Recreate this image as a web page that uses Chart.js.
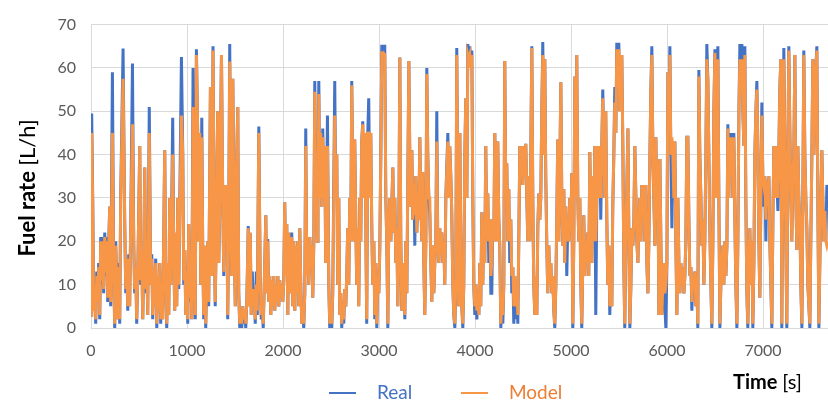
<!DOCTYPE html>
<html>
<head>
<meta charset="utf-8">
<script src="https://cdn.jsdelivr.net/npm/chart.js@4.4.0/dist/chart.umd.min.js"></script>
<style>
  html, body { margin: 0; padding: 0; background: #fff; }
</style>
</head>
<body>
<canvas id="chartConsumo" width="828" height="404"></canvas>
<script>

const timeS = [
  0,7,18,28,39,49,60,70,80,91,101,112,122,132,143,153,164,174,185,195,205,223,237,247,257,278,289,299,309,334,351,362,372,383,393,403,414,432,445,455,466,476,487,508,518,528,539,549,560,570,581,591,607,622,633,643,653,664,674,685,695,705,716,726,737,747,768,778,789,799,810,820,831,851,862,872,883,893,904,914,942,956,
  966,977,987,997,1008,1018,1029,1039,1050,1063,1075,1086,1098,1112,1122,1133,1143,1154,1164,1174,1185,1195,1206,1216,1226,1244,1258,1271,1284,1294,1305,1320,1331,1341,1359,1372,1383,1393,1404,1414,1424,1435,1445,1456,1466,1477,1492,1503,1515,1529,1539,1550,1560,1570,1581,1591,1602,1612,1623,1638,1649,1659,1669,1680,1690,1701,1711,1722,1732,1748,1763,1774,1784,1794,1805,1821,1831,1841,1852,1862,1873,1883,1893,1904,1914,1925,1935,1946,1956,1966,
  1977,1987,1998,2008,2018,2029,2039,2050,2060,2071,2081,2091,2102,2112,2123,2133,2143,2154,2164,2175,2185,2196,2206,2216,2227,2237,2248,2258,2268,2279,2289,2300,2310,2321,2331,2341,2349,2357,2364,2373,2383,2393,2404,2414,2425,2435,2445,2463,2477,2487,2497,2508,2518,2539,2549,2560,2570,2581,2591,2602,2612,2622,2633,2643,2654,2664,2674,2685,2695,2706,2716,2727,2737,2747,2758,2768,2779,2789,2800,2810,2820,2831,2841,2852,2862,2872,2883,2893,2904,2914,2925,
  2935,2946,2956,2967,2977,2987,2998,3008,3019,3029,3045,3060,3071,3081,3092,3102,3113,3123,3133,3144,3154,3165,3175,3185,3196,3206,3217,3227,3238,3248,3258,3269,3279,3290,3311,3326,3342,3352,3363,3373,3383,3394,3404,3415,3425,3435,3446,3456,3467,3477,3488,3498,3508,3519,3529,3540,3550,3560,3571,3581,3592,3602,3612,3623,3633,3644,3654,3665,3675,3685,3696,3717,3727,3737,3748,3758,3769,3779,3790,3800,3810,3821,3831,3842,3852,3862,3873,3883,3894,3904,3915,3925,
  3935,3946,3956,3967,3977,3987,3998,4008,4019,4029,4040,4050,4060,4071,4081,4092,4102,4112,4123,4133,4144,4154,4165,4175,4185,4196,4206,4217,4227,4237,4248,4258,4269,4279,4290,4300,4310,4321,4331,4342,4352,4362,4373,4383,4394,4404,4415,4425,4435,4446,4456,4467,4477,4487,4498,4508,4519,4529,4540,4550,4560,4571,4581,4592,4602,4612,4623,4633,4644,4654,4665,4675,4685,4696,4706,4717,4727,4737,4748,4758,4769,4779,4790,4800,4810,4821,4831,4842,4852,4862,4873,4883,4894,4904,4915,
  4925,4935,4946,4956,4967,4977,4987,4998,5008,5019,5029,5040,5050,5060,5071,5081,5092,5102,5112,5123,5133,5144,5154,5165,5175,5185,5196,5206,5217,5227,5237,5248,5258,5269,5279,5290,5300,5310,5321,5331,5342,5352,5362,5373,5383,5394,5404,5415,5425,5435,5446,5456,5467,5477,5487,5498,5508,5519,5529,5540,5550,5560,5571,5593,5603,5613,5624,5634,5644,5655,5665,5676,5686,5697,5707,5717,5728,5738,5749,5759,5769,5780,5790,5801,5811,5822,5832,5842,5853,5863,5874,5884,5894,5905,
  5915,5926,5936,5946,5957,5967,5978,5988,5999,6009,6019,6030,6040,6051,6061,6071,6082,6092,6103,6113,6124,6134,6144,6155,6165,6176,6186,6196,6207,6217,6228,6238,6249,6259,6269,6280,6290,6301,6311,6321,6332,6342,6353,6363,6374,6384,6394,6405,6415,6426,6436,6446,6457,6467,6478,6488,6499,6509,6519,6530,6540,6551,6561,6571,6582,6592,6603,6613,6624,6634,6644,6655,6665,6676,6686,6696,6707,6717,6728,6738,6749,6759,6769,6780,6790,6801,6811,6821,6832,6842,6853,6863,6873,6884,
  6894,6905,6915,6926,6936,6946,6957,6967,6978,6988,6998,7009,7019,7030,7040,7050,7061,7071,7082,7092,7103,7113,7123,7134,7144,7155,7165,7175,7186,7196,7207,7217,7228,7238,7248,7259,7269,7280,7290,7300,7311,7321,7332,7342,7353,7363,7373,7384,7394,7405,7415,7425,7436,7446,7457,7467,7478,7488,7498,7509,7519,7530,7540,7550,7561,7571,7582,7592,7603,7613,7623,7634,7644,7655,7665,7675
];

const realLh = [
  3,49.5,30,5,10,1,13,6,15,2,21,10,21,8,22,12,21,6,20,28,5,59,12,0,20,2,15,1,30,64.5,25,8,16,4,17,5,25,61,20,8,14,1,12,42,10,18,2,15,37,8,16,3,51,10,17,2,14,5,16,0,12,4,15,1,10,2,41,12,0,15,3,30,10,48.5,18,4,22,5,30,9,62.5,40,
  10,18,3,14,1,24,6,12,2,60,15,2,64.3,44,20,45,10,48.5,18,2,19,0,12,20,5,55.6,12,65,22,5,22,50,15,28,63,30,12,33,20,33,2,25,65.5,30,12,57.5,20,5,36,51,8,0,4,0,5,1,3,0,6,23.5,5,22,3,13,5,9,1,13,3,46.5,10,2,5,0,10,26,8,20.5,6,12,3,11,5,12,4,10,6,12,5,11,
  7,10,6,11,29,12,24,3,22,8,15,22,5,20,4,19,8,20,5,23,10,1,4,0,8,46,12,20,10,21,14,19,7,20,57,30,39.5,20,28,57,30,45,28,46,30,42,15,49,10,0,5,0,8,57,30,40,10,30,3,8,0,5,1,9,5,12,23,10,30,20,57,35,20,43.5,25,10,23,5,30,20,43,47.7,30,45,25,1,45,53,30,45,23,
  10,20,2,15,0,12,8,18,40,65,65,65,30,20,0,25,30,20,28,37,22,30,15,23,5,20,62.4,20,4,15,11,2,20,8,61.6,28,41,25,33,19,35,22,30,25,44,30,20,36,15,3,20,60,40,30,26,15,6,19,8,15,20,50,20,15,23,17,22,15,20,10,30,45,30,42,35,26.7,10,3,0,10,64.6,30,5,45,20,5,0,10,40,53,30,65.5,
  63,65,60,64,30,10,3,10,2,8,3,15,5,26.7,10,25,15,42,20,31,15,25,8,8,25,20,45,30,20,43,25,19,0,5,1,10,61.6,30,38,20,32,15,25,8,14,1,12,2,10,1,20,42,35,42,33,42,35,42.5,30,20,35,20,40,65,30,10,3,12,3,23,31,25,30,50,66,40,62,35,19,8,19,10,15,8,12,4,0,10,25,43.5,20,35,56.7,30,19,
  32,15,28,12,25,20,30,22,35.7,0,20,58,30,63,30,20,30,10,0,15,26,12,20,15,22,12,40.6,25,15,35,20,42,3,30,42,30,42,25,42,55,40,30,50,25,10,19,3,12,5,28,40,55.6,45,65.8,60,65.8,50,55,63,42,15,0,20,46,20,0,10,23,19,25,42,30,20,15,25,30,20,33,25,33,20,33,15,8,20,40,55,65,40,30,19,44,25,38.6,
  3,39,20,3,10,15,5,0,15,59,45,65,40,23,40,30,43,20,3,30,15,8,15,10,14,8,12,20,44,44,25,12,14,4,12,10,13,5,10,0,59.5,40,30,19,25,10,20,40,65.5,57,40,23,10,0,20,50,64.3,30,50,65,30,0,10,15,19,10,20,12,19,47,30,45,35,45,30,45,25,10,0,20,50,65.5,55,65.5,50,42,65,30,8,0,15,23,10,20,
  0,15,40,50,57,42,20,7,30,52,35,28,35,20,34,28,35,20,10,0,25,42,30,42,35,27,40,55,62,0,40,64.6,40,20,0,40,65,45,30,20,35,40,63,30,18,42,30,25,10,0,30,64,40,30,23,10,5,0,20,40,62,40,50,60,65,30,0,15,30,41,30,20,27,20,33,30
];

const modelLh = [
  3,45,28,4,9,2,12,6,14,3,20,11,20,9,21,13,20,7,19,28,6,45,12,1,19,2,14,2,29,57.5,25,9,16,5,16,5,24,47,20,9,14,2,12,42,11,18,2,15,37,9,16,3,45,10,16,3,14,5,15,1,12,4,15,2,10,2,41,12,1,15,3,30,10,40,18,4,22,5,30,10,49,40,
  11,18,3,13,2,24,7,12,2,51,15,3,63,45,20,45,10,44,18,3,19,1,12,20,6,55.6,12,64,22,6,22,50,15,28,63,31,13,33,20,33,3,25,61.5,30,12,57.5,20,5,36,51,8,1,4,1,5,2,4,1,6,23,5,22,3,9,5,9,2,10,4,45,10,3,5,1,10,26,8,20,6,12,3,11,5,12,4,10,6,12,5,11,
  7,10,6,11,29,12,24,3,22,8,15,21,5,20,4,19,8,20,5,23,10,1,4,1,8,42,12,20,10,21,14,19,7,20,54.5,30,39.5,20,28,54,30,45,28,44,30,42,15,42,10,1,5,1,8,49,30,40,10,30,3,8,1,5,2,9,5,12,23,10,30,20,56,35,20,43.5,25,10,23,5,30,20,43,47,30,45,25,2,45,45,30,45,23,
  10,20,3,15,1,12,8,18,40,63.5,63.5,63,30,20,1,25,30,20,28,37,22,30,15,23,5,20,62.4,20,4,15,11,3,20,8,61.6,28,41,25,33,26,35,22,30,25,44,30,20,36,15,3,20,58.6,40,30,30,15,6,19,8,15,20,43,20,15,23,17,22,15,20,10,30,43,30,42,35,26.7,10,3,1,10,63,30,5,45,20,5,1,10,40,53,30,63,
  62,63,60,63,30,10,5,10,4,8,3,15,5,26.7,10,25,15,42,20,31,20,25,12,15,25,20,45,30,20,43,25,19,1,5,3,10,61.6,30,38,20,32,20,25,12,14,5,12,5,10,3,20,42,35,42,33,42,35,42.5,30,20,35,20,40,64.6,30,10,3,12,3,23,31,25,30,50,63,40,62,35,19,8,19,10,15,8,12,4,1,10,25,43.5,20,35,56.7,30,19,
  32,15,28,20,25,20,30,22,35.7,1,20,58,30,63,30,20,30,10,1,15,26,12,20,15,22,12,40.6,25,15,35,20,42,20,30,42,30,42,30,42,53,40,30,50,25,10,19,5,12,5,28,40,52,45,64.3,60,64.3,50,55,63,42,15,1,20,46,20,1,10,23,19,25,42,30,20,15,25,30,20,33,25,33,20,33,15,8,20,40,55,63,40,30,19,44,25,38.6,
  3,39,20,3,10,15,8,10,15,59,45,63,40,44,40,30,43,20,3,30,15,8,15,10,14,8,12,20,44,44,25,12,14,6,12,10,13,5,10,1,58,40,30,19,25,10,20,40,62,57,40,23,10,1,20,50,63.5,30,50,62,30,1,10,15,19,10,20,12,19,46,30,44,35,44,30,44,25,10,1,20,50,62,55,62,50,42,63,30,8,1,15,23,10,20,
  1,15,40,50,55,42,20,7,30,49,35,33,35,25,34,30,35,20,10,1,25,42,30,42,35,30,40,55,62,1,40,62,40,20,1,40,64,45,30,20,35,40,63,30,18,42,30,25,10,1,30,63,40,30,23,10,5,1,20,40,62,40,50,60,64,30,1,15,30,41,30,20,27,20,19,20
];

const xTicks = [0, 1000, 2000, 3000, 4000, 5000, 6000, 7000];
const yTicks = [0, 10, 20, 30, 40, 50, 60, 70];
const seriesNames = ['Real', 'Model'];
const lineColors = ['#4472C4', '#F79646'];
const legendTextColors = ['#4472C4', '#ED7D31'];
const yTitle = ['Fuel rate', '[L/h]'];
const xTitle = ['Time', '[s]'];

const FONT = 'Lato';
const GRID = '#D9D9D9';
const TICK = '#595959';

// texto en negrita + texto normal, como en los títulos de ejes del original
function textoMixto(ctx, partes, x, y, size, align) {
    ctx.textBaseline = 'middle';
    ctx.fillStyle = '#000';
    ctx.font = `bold ${size}px ${FONT}`;
    const w1 = ctx.measureText(partes[0] + ' ').width;
    ctx.font = `${size}px ${FONT}`;
    const w2 = ctx.measureText(partes[1]).width;
    const x0 = align === 'center' ? x - (w1 + w2) / 2 : x;
    ctx.textAlign = 'left';
    ctx.font = `bold ${size}px ${FONT}`;
    ctx.fillText(partes[0], x0, y);
    ctx.font = `${size}px ${FONT}`;
    ctx.fillText(partes[1], x0 + w1, y);
}

// ── títulos de ejes y leyenda (dibujados a mano) ──
const decoracion = {
    id: 'decoracion',
    afterDraw(chart) {
        const ctx = chart.ctx;

        ctx.save();
        ctx.translate(28, 188);
        ctx.rotate(-Math.PI / 2);
        textoMixto(ctx, yTitle, 0, 0, 22, 'center');
        ctx.restore();

        ctx.save();
        textoMixto(ctx, xTitle, 733, 383, 20, 'left');
        ctx.restore();

        const slots = [{ line: 329, text: 377 }, { line: 461, text: 509 }];
        ctx.save();
        chart.data.datasets.forEach((ds, i) => {
            const s = slots[i];
            ctx.strokeStyle = ds.borderColor;
            ctx.lineWidth = 2;
            ctx.beginPath();
            ctx.moveTo(s.line, 393);
            ctx.lineTo(s.line + 27, 393);
            ctx.stroke();
            ctx.fillStyle = legendTextColors[i];
            ctx.font = `19px ${FONT}`;
            ctx.textAlign = 'left';
            ctx.textBaseline = 'middle';
            ctx.fillText(ds.label, s.text, 393);
        });
        ctx.restore();
    },
};

function serie(valores) {
    return timeS.map((t, i) => ({ x: t, y: valores[i] }));
}

new Chart(document.getElementById('chartConsumo'), {
    type: 'line',
    data: {
        datasets: [
            {
                label: seriesNames[0],
                data: serie(realLh),
                borderColor: lineColors[0],
                borderWidth: 3,
                pointRadius: 0,
                tension: 0,
                order: 2,
            },
            {
                label: seriesNames[1],
                data: serie(modelLh),
                borderColor: lineColors[1],
                borderWidth: 3,
                pointRadius: 0,
                tension: 0,
                order: 1,
            },
        ],
    },
    options: {
        responsive: false,
        animation: false,
        layout: { padding: { top: 18, right: 0, bottom: 0, left: 0 } },
        plugins: {
            legend: { display: false },
            tooltip: { enabled: false },
        },
        scales: {
            x: {
                type: 'linear',
                min: 0,
                max: 7677,
                afterBuildTicks: (s) => { s.ticks = xTicks.map(v => ({ value: v })); },
                afterFit: (s) => { s.height = 76; s.paddingLeft = 0; s.paddingRight = 0; },
                ticks: {
                    autoSkip: false,
                    maxRotation: 0,
                    color: TICK,
                    padding: 13,
                    font: { family: FONT, size: 16 },
                    callback: (v) => String(v),
                },
                grid: { color: GRID, drawTicks: false },
                border: { color: GRID },
            },
            y: {
                min: 0,
                max: 70,
                afterBuildTicks: (s) => { s.ticks = yTicks.map(v => ({ value: v })); },
                afterFit: (s) => { s.width = 91; },
                ticks: {
                    color: TICK,
                    padding: 15,
                    font: { family: FONT, size: 16 },
                    callback: (v) => String(v),
                },
                grid: { color: GRID, drawTicks: false },
                border: { display: false },
            },
        },
    },
    plugins: [decoracion],
});
</script>
</body>
</html>
